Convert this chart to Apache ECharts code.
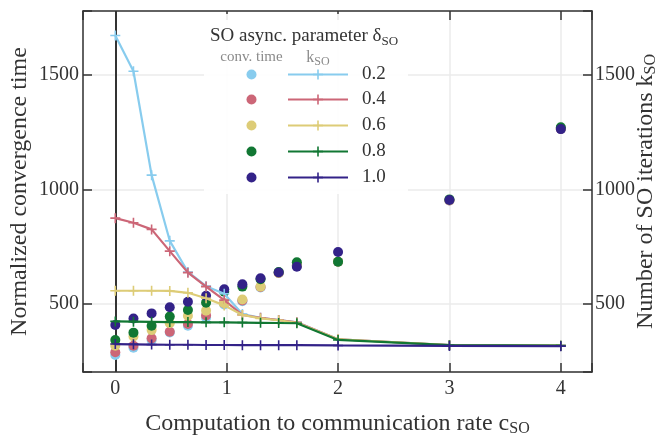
<!DOCTYPE html>
<html><head><meta charset="utf-8">
<script src="https://cdn.jsdelivr.net/npm/echarts@6/dist/echarts.min.js"></script>
<style>html,body{margin:0;padding:0;background:#fff}#c{width:665px;height:440px}</style>
</head><body><div id="c"></div>
<script>
// ---- data ----
const cRates = [0, 0.163, 0.326, 0.489, 0.652, 0.815, 0.978, 1.141, 1.304, 1.467, 1.63, 2, 3, 4];
const deltaLabels = ['0.2', '0.4', '0.6', '0.8', '1.0'];
const conv02 = [277, 309, 343, 376, 405, 440, 498, 512, 572, 636, 668, 685, 952, 1265];
const conv04 = [289, 318, 350, 379, 413, 450, 503, 515, 574, 636, 668, 685, 952, 1265];
const conv06 = [318, 358, 386, 416, 449, 471, 503, 520, 576, 636, 670, 685, 953, 1267];
const conv08 = [343, 375, 405, 445, 474, 506, 554, 576, 608, 640, 682, 685, 957, 1272];
const conv10 = [408, 437, 459, 486, 510, 536, 564, 586, 612, 638, 663, 727, 954, 1264];
const k02 = [1673, 1517, 1063, 776, 640, 578, 545, 456, 440, 430, 420, 346, 321, 318];
const k04 = [875, 855, 826, 731, 637, 576, 517, 452, 440, 430, 420, 346, 321, 318];
const k06 = [558, 558, 558, 557, 549, 525, 494, 452, 437, 429, 418, 346, 321, 318];
const k08 = [424, 423, 422, 421, 421, 420, 420, 419, 418, 417, 416, 343, 320, 318];
const k10 = [325, 324, 323, 322, 322, 321, 321, 320, 320, 320, 320, 319, 317, 316];
const xTickLabels = [0, 1, 2, 3, 4];
const yTickLabels = [500, 1000, 1500];

const convSeries = [conv02, conv04, conv06, conv08, conv10];
const kSeries = [k02, k04, k06, k08, k10];
const colors = ['#88CCEE', '#CC6677', '#DDCC77', '#117733', '#332288'];
const FF = 'Liberation Serif';
const TXT = '#333333';
const CROSS = 'path://M0,4.2H10V5.8H0Z M4.2,0H5.8V10H4.2Z';

const pairs = arr => arr.map((v, i) => [cRates[i], v]);

const series = [];
// vertical reference line at c=0
series.push({
  type: 'line', data: [], z: 1, silent: true,
  markLine: { silent: true, symbol: 'none', animation: false, z: 1,
    label: { show: false },
    lineStyle: { color: '#333', width: 2, type: 'solid' },
    data: [{ xAxis: 0 }] }
});
convSeries.forEach((arr, i) => series.push({
  type: 'scatter', name: 'conv ' + deltaLabels[i], data: pairs(arr),
  symbol: 'circle', symbolSize: 10, z: 2 + i * 0.01,
  itemStyle: { color: colors[i], opacity: 1 }
}));
kSeries.forEach((arr, i) => series.push({
  type: 'line', name: 'k ' + deltaLabels[i], data: pairs(arr), yAxisIndex: 1,
  symbol: CROSS, symbolSize: 10, showSymbol: true, z: 3 + i * 0.01,
  lineStyle: { color: colors[i], width: 2.2 },
  itemStyle: { color: colors[i] }
}));

// ---- legend (graphic) ----
const rowY = [74.5, 99.5, 125.5, 151.5, 177.5];
const g = [];
g.push({ type: 'rect', shape: { x: 204, y: 14, width: 204, height: 180 },
  style: { fill: '#ffffff', opacity: 0.9 }, z: 50 });
g.push({ type: 'text', x: 210, y: 36, z: 51, style: {
  text: '{a|SO async. parameter δ}{s|SO}', align: 'left', verticalAlign: 'middle',
  rich: { a: { fontFamily: FF, fontSize: 19, fill: TXT, lineHeight: 24 },
          s: { fontFamily: FF, fontSize: 13, fill: TXT, lineHeight: 10, verticalAlign: 'bottom' } } } });
g.push({ type: 'text', x: 251.5, y: 57, z: 51, style: {
  text: 'conv. time', align: 'center', verticalAlign: 'middle',
  fontFamily: FF, fontSize: 15, fill: '#8a8a8a' } });
g.push({ type: 'text', x: 318, y: 58, z: 51, style: {
  text: '{a|k}{s|SO}', align: 'center', verticalAlign: 'middle',
  rich: { a: { fontFamily: FF, fontSize: 16, fill: '#8a8a8a', lineHeight: 20 },
          s: { fontFamily: FF, fontSize: 12, fill: '#8a8a8a', lineHeight: 8, verticalAlign: 'bottom' } } } });
deltaLabels.forEach((lab, i) => {
  const y = rowY[i];
  g.push({ type: 'circle', shape: { cx: 251.5, cy: y, r: 5 }, style: { fill: colors[i] }, z: 51 });
  g.push({ type: 'line', shape: { x1: 288, y1: y, x2: 348, y2: y }, style: { stroke: colors[i], lineWidth: 2.2 }, z: 51 });
  g.push({ type: 'rect', shape: { x: 313, y: y - 0.8, width: 10, height: 1.6 }, style: { fill: colors[i] }, z: 52 });
  g.push({ type: 'rect', shape: { x: 317.2, y: y - 5, width: 1.6, height: 10 }, style: { fill: colors[i] }, z: 52 });
  g.push({ type: 'text', x: 362, y: y, z: 51, style: { text: lab, align: 'left', verticalAlign: 'middle',
    fontFamily: FF, fontSize: 19, fill: TXT } });
});

const axLine = { show: true, onZero: false, lineStyle: { color: '#333', width: 1.5 } };
const tick = { show: true, inside: true, length: 9, lineStyle: { color: '#333', width: 1.5 } };
const xFmt = v => xTickLabels.includes(v) ? String(v) : '';
const yFmt = v => yTickLabels.includes(v) ? String(v) : '';
const nameRich = (size) => ({
  fontFamily: FF, fontSize: size, color: TXT,
  rich: { a: { fontFamily: FF, fontSize: size, color: TXT, lineHeight: 26 },
          s: { fontFamily: FF, fontSize: 16, color: TXT, lineHeight: 10, verticalAlign: 'bottom' } }
});

const option = {
  animation: false,
  backgroundColor: '#fff',
  grid: { left: 83, right: 73, top: 11, bottom: 68, containLabel: false, outerBoundsMode: 'none' },
  xAxis: [
    { type: 'value', position: 'bottom', min: -0.29, max: 4.28, splitNumber: 5,
      axisLine: axLine, axisTick: tick,
      axisLabel: { formatter: xFmt, fontFamily: FF, fontSize: 20, color: TXT, margin: 7 },
      splitLine: { show: true, lineStyle: { color: '#ebebeb', width: 1.5 } },
      name: '{a|Computation to communication rate c}{s|SO}', nameLocation: 'middle', nameGap: 39,
      nameMoveOverlap: false, nameTextStyle: nameRich(24) },
    { type: 'value', position: 'top', min: -0.29, max: 4.28, splitNumber: 5,
      axisLine: axLine, axisTick: tick, axisLabel: { show: false }, splitLine: { show: false } }
  ],
  yAxis: [
    { type: 'value', position: 'left', min: 203, max: 1780, splitNumber: 3,
      axisLine: axLine, axisTick: tick,
      axisLabel: { formatter: yFmt, fontFamily: FF, fontSize: 20, color: TXT, margin: 4 },
      splitLine: { show: true, lineStyle: { color: '#ebebeb', width: 1.5 } },
      name: '{a|Normalized convergence time}', nameLocation: 'middle', nameGap: 50,
      nameMoveOverlap: false, nameTextStyle: nameRich(24) },
    { type: 'value', position: 'right', min: 203, max: 1780, splitNumber: 3,
      axisLine: axLine, axisTick: tick,
      axisLabel: { formatter: yFmt, fontFamily: FF, fontSize: 20, color: TXT, margin: 3 },
      splitLine: { show: false },
      name: '{a|Number of SO iterations k}{s|SO}', nameLocation: 'middle', nameGap: 41,
      nameMoveOverlap: false, nameTextStyle: nameRich(24) }
  ],
  series: series,
  graphic: g
};
const chart = echarts.init(document.getElementById('c'), null, { renderer: 'canvas' });
chart.setOption(option);
</script></body></html>
